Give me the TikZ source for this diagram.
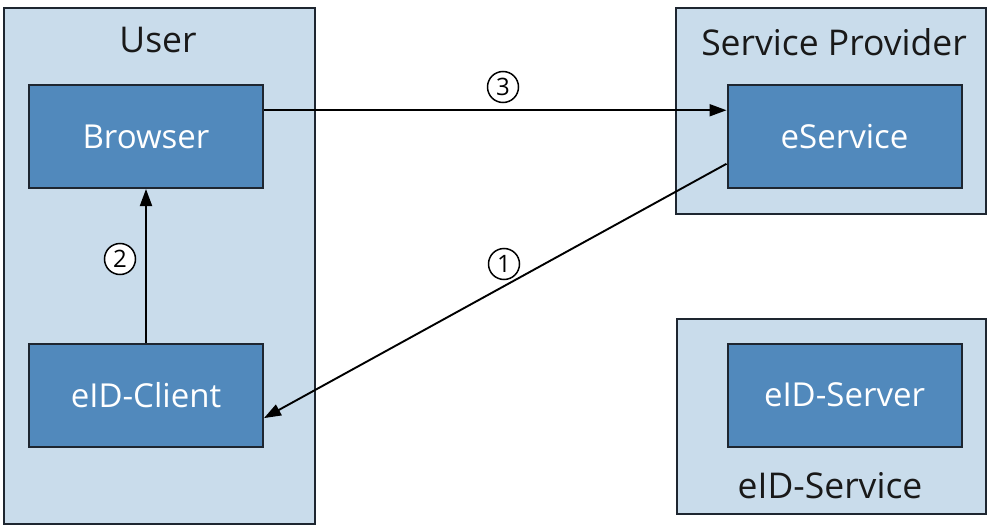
\documentclass[tikz,border=0pt]{standalone}
\usepackage{fontspec}
\setmainfont{Open Sans}
\usetikzlibrary{arrows.meta,calc}
\definecolor{outerfill}{HTML}{C9DCEB}
\definecolor{innerfill}{HTML}{5189BC}
\definecolor{edgecol}{HTML}{1E2630}
\tikzset{
  outerbox/.style={draw=edgecol, line width=2pt, fill=outerfill, anchor=north west, inner sep=0pt},
  innerbox/.style={draw=edgecol, line width=2pt, fill=innerfill, text=white, font=\fontsize{33}{37}\selectfont, inner sep=0pt, minimum width=234pt, minimum height=103pt},
  titletext/.style={text=black!90, font=\fontsize{35.5}{39}\selectfont, inner sep=0pt},
  stepnum/.style={circle, draw=black, line width=1.5pt, fill=white, minimum size=31pt, inner sep=0pt, font=\fontsize{24}{26}\selectfont},
  arr/.style={draw=black, line width=1.9pt, -{Triangle[length=17pt,width=12pt]}}
}
\begin{document}
\begin{tikzpicture}[x=1pt,y=-1pt]
\useasboundingbox (0,0) rectangle (987,532);
% outer boxes
\node[outerbox, minimum width=311pt, minimum height=516pt] (user) at (3,7) {};
\node[outerbox, minimum width=310pt, minimum height=206pt] (sp) at (675,7) {};
\node[outerbox, minimum width=309pt, minimum height=195pt] (eids) at (676,318) {};
% titles
\node[titletext] (usert) at (158,40) {User};
\node[titletext] (spt) at (834,42) {Service Provider};
\node[titletext] (eidst) at (830,486) {eID-Service};
% inner boxes
\node[innerbox] (browser) at (146,136.5) {Browser};
\node[innerbox] (client) at (146,395) {eID-Client};
\node[innerbox] (eservice) at (844.5,136.5) {eService};
\node[innerbox] (server) at (844.5,395) {eID-Server};
% connectors
\draw[arr] ($(browser.north east)!0.25!(browser.south east)$) -- ($(eservice.north west)!0.25!(eservice.south west)$);
\draw[arr] (client.north) -- (browser.south);
\draw[arr] ($(eservice.north west)!0.76!(eservice.south west)$) -- ($(client.north east)!0.72!(client.south east)$);
% step numbers
\node[stepnum] (n3) at (503,87) {3};
\node[stepnum] (n2) at (120,259) {2};
\node[stepnum] (n1) at (504,264) {1};
\end{tikzpicture}
\end{document}
